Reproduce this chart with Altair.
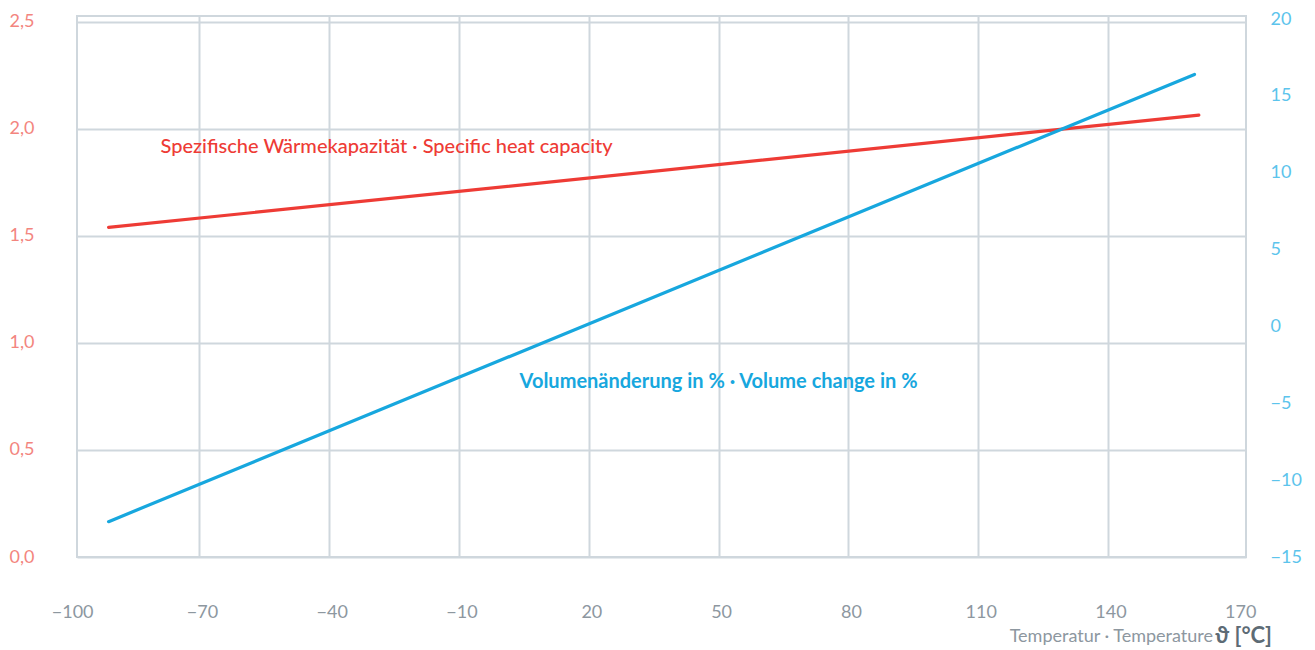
import altair as alt
import pandas as pd

# ---- data ----
temp_heat = [-91, 161]
heat_capacity = [1.54, 2.065]
temp_vol = [-91, 160]
volume_change = [-12.7, 16.4]

x_ticks = [-100, -70, -40, -10, 20, 50, 80, 110, 140, 170]
x_grid = [-70, -40, -10, 20, 50, 80, 110, 140]
left_ticks = [0.0, 0.5, 1.0, 1.5, 2.0, 2.5]
right_ticks = [-15, -10, -5, 0, 5, 10, 15, 20]

heat_label = ["Spezifische Wärmekapazität · Specific heat capacity"]
heat_label_x = [-79]
heat_label_y = [1.915]
vol_label = ["Volumenänderung in % · Volume change in %"]
vol_label_x = [4]
vol_label_y = [-3.63]
x_title_main = ["Temperatur · Temperature"]
x_title_unit = ["ϑ [°C]"]

# ---- styles ----
RED = "#EE3B35"
RED_LABEL = "#F3857E"
BLUE = "#17A7DE"
BLUE_LABEL = "#5CC4EC"
GRID = "#CFD7DD"
XLAB = "#8D979F"
UNIT = "#5D6B75"
FONT = "Lato"

x_scale = alt.Scale(domain=[-98.3, 171.9], nice=False, zero=False)
left_scale = alt.Scale(domain=[0, 2.528], nice=False, zero=False)
right_scale = alt.Scale(domain=[-15, 20.2], nice=False, zero=False)

# grid-only x axis; tick labels drawn by a text layer (the -100 label lies just
# outside the plotted domain, as in the original artwork)
x_axis = alt.Axis(values=x_grid, orient="bottom", grid=True, gridColor=GRID, gridWidth=2,
                  ticks=False, tickSize=0, domain=False, labels=False, title=None)

heat_df = pd.DataFrame({"x": temp_heat, "y": heat_capacity})
vol_df = pd.DataFrame({"x": temp_vol, "y": volume_change})
tick_df = pd.DataFrame({"x": x_ticks})

red_line = alt.Chart(heat_df).mark_line(color=RED, strokeWidth=3.2, strokeCap="round").encode(
    x=alt.X("x:Q", scale=x_scale, axis=x_axis),
    y=alt.Y("y:Q", scale=left_scale, axis=alt.Axis(
        values=left_ticks, orient="left",
        labelExpr="replace(format(datum.value, '.1f'), '.', ',')",
        labelColor=RED_LABEL, labelFontSize=18, labelFont=FONT,
        labelAlign="left", labelPadding=68, ticks=False, tickSize=0,
        domain=False, grid=True, gridColor=GRID, gridWidth=2, title=None,
        labelOverlap=False)),
)

blue_line = alt.Chart(vol_df).mark_line(color=BLUE, strokeWidth=3.2, strokeCap="round").encode(
    x=alt.X("x:Q", scale=x_scale, axis=x_axis),
    y=alt.Y("y:Q", scale=right_scale, axis=alt.Axis(
        values=right_ticks, orient="right", format="d",
        labelColor=BLUE_LABEL, labelFontSize=18, labelFont=FONT,
        labelAlign="left", labelPadding=24, ticks=False, tickSize=0,
        domain=False, grid=False, title=None, labelOverlap=False)),
)

x_labels = alt.Chart(tick_df).transform_calculate(
    lab="format(datum.x, 'd')"
).mark_text(
    color=XLAB, font=FONT, fontSize=18, align="center", baseline="middle", dx=3
).encode(
    x=alt.X("x:Q", scale=x_scale, axis=x_axis),
    y=alt.value(597),
    text="lab:N",
)

red_text = alt.Chart(pd.DataFrame({"x": heat_label_x, "y": heat_label_y, "t": heat_label})).mark_text(
    color=RED, font=FONT, fontSize=20, fontWeight=500, align="left", baseline="middle"
).encode(
    x=alt.X("x:Q", scale=x_scale, axis=x_axis),
    y=alt.Y("y:Q", scale=left_scale, axis=None),
    text="t:N",
)

blue_text = alt.Chart(pd.DataFrame({"x": vol_label_x, "y": vol_label_y, "t": vol_label})).mark_text(
    color=BLUE, font=FONT, fontSize=20, fontWeight="bold", align="left", baseline="middle"
).encode(
    x=alt.X("x:Q", scale=x_scale, axis=x_axis),
    y=alt.Y("y:Q", scale=right_scale, axis=None),
    text="t:N",
)

title_main = alt.Chart(pd.DataFrame({"t": x_title_main})).mark_text(
    color=XLAB, font=FONT, fontSize=18, align="right", baseline="middle"
).encode(text="t:N", x=alt.value(1136), y=alt.value(621))

title_unit = alt.Chart(pd.DataFrame({"t": x_title_unit})).mark_text(
    color=UNIT, font=FONT, fontSize=22, fontWeight="bold", align="right", baseline="middle"
).encode(text="t:N", x=alt.value(1195), y=alt.value(620))

chart = alt.layer(red_line, red_text, blue_line, blue_text, x_labels, title_main, title_unit).resolve_scale(
    y="independent"
).properties(
    width=1169, height=541,
    padding={"left": 69, "top": 8, "right": 60, "bottom": 92},
    autosize=alt.AutoSizeParams(type="none"),
).configure_view(stroke=GRID, strokeWidth=2)

chart.save("out.html", embed_options={"renderer": "svg", "actions": False})
